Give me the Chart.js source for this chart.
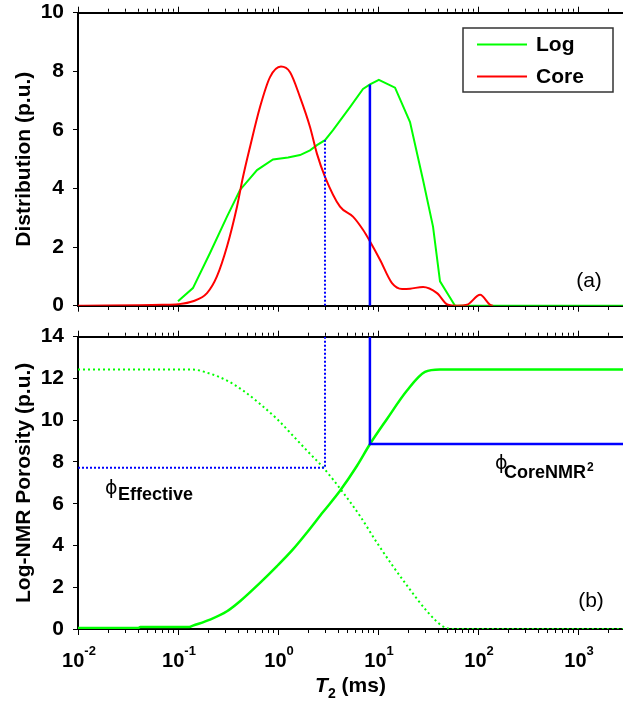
<!DOCTYPE html>
<html><head><meta charset="utf-8">
<script src="https://cdn.jsdelivr.net/npm/chart.js@4.4.1/dist/chart.umd.min.js"></script>
<style>
html,body{margin:0;padding:0;background:#fff;overflow:hidden;width:623px;height:707px;}
#ca{position:absolute;left:0;top:0;}
#cb{position:absolute;left:0;top:320px;}
</style></head><body>
<canvas id="ca" width="623" height="320"></canvas>
<canvas id="cb" width="623" height="387"></canvas>
<script>
// ---------- DATA ----------
const SERIES_NAMES = ['Log', 'Core'];
// (a) T2 distributions
const T2_LOG  = [0.1, 0.141, 0.209, 0.309, 0.417, 0.617, 0.891, 1.26, 1.66, 2.09, 2.45, 2.95, 3.55, 5.25, 7.08, 8.32, 10.2, 14.8, 20.9, 28.2, 35.5, 41.7, 58.9, 2818];
const LOG_DIST = [0.15, 0.6, 1.8, 3.04, 3.95, 4.63, 4.99, 5.06, 5.14, 5.3, 5.48, 5.65, 5.99, 6.78, 7.40, 7.55, 7.71, 7.44, 6.27, 4.29, 2.70, 0.83, 0, 0];
const T2_CORE = [0.01, 0.07, 0.1, 0.141, 0.195, 0.245, 0.309, 0.389, 0.447, 0.525, 0.661, 0.832, 1.07, 1.32, 1.66, 2.09, 2.45, 2.95, 4.17, 5.62, 7.08, 8.32, 10.5, 13.8, 17.4, 20.9, 28.2, 38.9, 50.1, 61.7, 77.6, 105, 132, 141];
const CORE_DIST = [0, 0.03, 0.05, 0.15, 0.43, 1.0, 2.02, 3.38, 4.40, 5.42, 6.78, 7.80, 8.16, 7.97, 7.12, 6.10, 5.19, 4.40, 3.38, 3.04, 2.59, 2.19, 1.56, 0.77, 0.57, 0.58, 0.64, 0.43, 0.03, 0, 0.03, 0.37, 0.03, 0];
// (b) cumulative log-NMR porosity
const T2_CUM = [0.01, 0.04, 0.042, 0.13, 0.141, 0.209, 0.309, 0.417, 0.661, 0.977, 1.41, 1.95, 2.82, 4.17, 6.17, 8.32, 12.3, 19.5, 29.5, 41.7, 2818];
const CUM_POR = [0.05, 0.05, 0.1, 0.1, 0.16, 0.45, 0.85, 1.33, 2.21, 3.01, 3.81, 4.62, 5.6, 6.62, 7.82, 8.86, 10.06, 11.42, 12.31, 12.43, 12.43];
const T2_REM = [0.01, 0.138, 0.209, 0.309, 0.447, 0.661, 0.977, 1.41, 1.95, 2.82, 4.47, 6.61, 9.77, 14.1, 20.9, 30.9, 44.7, 56.2, 2818];
const REM_POR = [12.43, 12.43, 12.23, 11.9, 11.42, 10.78, 10.06, 9.26, 8.54, 7.74, 6.54, 5.41, 4.13, 3.01, 1.89, 0.85, 0.12, 0, 0];
// cut-offs
const T2_EFF = 2.95, PHI_EFF = 7.72, LOG_AT_EFF = 5.65;
const T2_CNMR = 8.3, PHI_CNMR = 8.86, LOG_AT_CNMR = 7.55;
// axes
const X_MIN = 0.01, X_MAX = 2818;
const TICK_EXPONENTS = ['-2', '-1', '0', '1', '2', '3'];
const Y_MAX_A = 10, Y_MAX_B = 14, Y_STEP = 2;
const Y_TITLE_A = 'Distribution (p.u.)';
const Y_TITLE_B = 'Log-NMR Porosity (p.u.)';
const PANEL_LABELS = ['(a)', '(b)'];

// ---------- STYLE ----------
const FONT = '"Liberation Sans", Arial, Helvetica, sans-serif';
const GREEN = '#00ff00', RED = '#ff0000', BLUE = '#0000ff';
const pts = (xs, ys) => xs.map((x, i) => ({x, y: ys[i]}));

function logTicks() {
  const t = [];
  for (let e = -2; e <= 3; e++) for (let m = 1; m <= 9; m++) {
    const v = +(m * Math.pow(10, e)).toPrecision(6);
    if (v >= X_MIN && v <= X_MAX) t.push({value: v, major: m === 1});
  }
  return t;
}
function xAxis(pos, h) {
  return {
    type: 'logarithmic', position: pos, min: X_MIN, max: X_MAX,
    ticks: {display: false},
    border: {display: true, color: '#000', width: 2},
    grid: {display: true, drawOnChartArea: false, drawTicks: true, tickLength: 6, tickColor: '#000', tickWidth: 1,
      tickBorderDash: c => (c.tick && c.tick.major) ? [] : [3, 3],
      tickBorderDashOffset: c => (pos === 'top' && !(c.tick && c.tick.major)) ? 4 : 0},
    afterBuildTicks: s => { s.ticks = logTicks(); },
    afterFit: s => { s.height = h; s.paddingLeft = 0; s.paddingRight = 0; }
  };
}
function yAxis(max, title) {
  return {
    type: 'linear', position: 'left', min: 0, max: max,
    ticks: {stepSize: Y_STEP, color: '#000', font: {family: FONT, size: 21, weight: 'bold'}, padding: 9},
    border: {display: true, color: '#000', width: 2},
    grid: {display: true, drawOnChartArea: false, drawTicks: true, tickLength: 5, tickColor: '#000'},
    title: {display: true, text: title, color: '#000', font: {family: FONT, size: 21, weight: 'bold'}, padding: {top: 12, bottom: 0}},
    afterFit: s => { s.width = 78; s.paddingTop = 0; s.paddingBottom = 0; }
  };
}
const baseOpts = {
  responsive: false, animation: false, devicePixelRatio: 1,
  plugins: {legend: {display: false}, tooltip: {enabled: false}},
  layout: {padding: 0},
  elements: {point: {radius: 0}}
};

// ---------- CHART (a) ----------
const overlayA = {
  id: 'overlayA',
  afterDraw(chart) {
    const ctx = chart.ctx;
    ctx.save();
    // legend
    ctx.lineWidth = 1.5; ctx.strokeStyle = '#333';
    ctx.strokeRect(463, 28, 150, 64);
    const items = [[SERIES_NAMES[0], GREEN, 44.5], [SERIES_NAMES[1], RED, 76.5]];
    items.forEach(([name, col, y]) => {
      ctx.strokeStyle = col; ctx.lineWidth = 2;
      ctx.beginPath(); ctx.moveTo(477, y); ctx.lineTo(527, y); ctx.stroke();
      ctx.fillStyle = '#000'; ctx.font = 'bold 21px ' + FONT; ctx.textBaseline = 'middle'; ctx.textAlign = 'left';
      ctx.fillText(name, 536, y + 1);
    });
    ctx.font = '21px ' + FONT; ctx.textAlign = 'center'; ctx.textBaseline = 'middle';
    ctx.fillText(PANEL_LABELS[0], 589, 281);
    ctx.restore();
  }
};
new Chart(document.getElementById('ca'), {
  type: 'line',
  data: {datasets: [
    {label: 'T2 cut-off (effective)', data: [{x: T2_EFF, y: 0}, {x: T2_EFF, y: LOG_AT_EFF}], borderColor: BLUE, borderWidth: 2, borderDash: [2, 2]},
    {label: 'T2 cut-off (core NMR)', data: [{x: T2_CNMR, y: 0}, {x: T2_CNMR, y: LOG_AT_CNMR}], borderColor: BLUE, borderWidth: 2.5},
    {label: SERIES_NAMES[1], data: pts(T2_CORE, CORE_DIST), borderColor: RED, borderWidth: 2, cubicInterpolationMode: 'monotone'},
    {label: SERIES_NAMES[0], data: pts(T2_LOG, LOG_DIST), borderColor: GREEN, borderWidth: 2, tension: 0}
  ]},
  options: Object.assign({}, baseOpts, {
    scales: {
      x: xAxis('bottom', 14.3),
      x2: xAxis('top', 12.7),
      y: yAxis(Y_MAX_A, Y_TITLE_A)
    }
  }),
  plugins: [overlayA]
});

// ---------- CHART (b) ----------
const overlayB = {
  id: 'overlayB',
  afterDraw(chart) {
    const ctx = chart.ctx, xs = chart.scales.x, ca = chart.chartArea;
    ctx.save();
    ctx.fillStyle = '#000';
    ctx.textBaseline = 'alphabetic'; ctx.textAlign = 'left';
    // x tick labels 10^n
    TICK_EXPONENTS.forEach(e => {
      const px = xs.getPixelForValue(Math.pow(10, +e));
      ctx.font = 'bold 20px ' + FONT; const w1 = ctx.measureText('10').width;
      ctx.font = 'bold 13px ' + FONT; const w2 = ctx.measureText(e).width;
      const x0 = px - (w1 + w2) / 2 + 1;
      ctx.font = 'bold 20px ' + FONT; ctx.fillText('10', x0, 347);
      ctx.font = 'bold 13px ' + FONT; ctx.fillText(e, x0 + w1, 335);
    });
    // x title T2 (ms)
    ctx.font = 'italic bold 21px ' + FONT; const wT = ctx.measureText('T').width;
    ctx.font = 'bold 14px ' + FONT; const w2 = ctx.measureText('2').width;
    ctx.font = 'bold 21px ' + FONT; const wm = ctx.measureText(' (ms)').width;
    let x0 = (ca.left + ca.right) / 2 - (wT + w2 + wm) / 2;
    ctx.font = 'italic bold 21px ' + FONT; ctx.fillText('T', x0, 372);
    ctx.font = 'bold 14px ' + FONT; ctx.fillText('2', x0 + wT, 378);
    ctx.font = 'bold 21px ' + FONT; ctx.fillText(' (ms)', x0 + wT + w2, 372);
    // annotations
    ctx.font = '19px "DejaVu Sans", ' + FONT; ctx.fillText('\u03D5', 105, 174);
    ctx.font = 'bold 18px ' + FONT; ctx.fillText('Effective', 118, 180);
    ctx.font = '19px "DejaVu Sans", ' + FONT; ctx.fillText('\u03D5', 495, 149);
    ctx.font = 'bold 18px ' + FONT; ctx.fillText('CoreNMR', 504, 158);
    const wc = ctx.measureText('CoreNMR').width;
    ctx.font = 'bold 12px ' + FONT; ctx.fillText('2', 504 + wc + 1, 151);
    // panel label
    ctx.font = '21px ' + FONT; ctx.textAlign = 'center'; ctx.textBaseline = 'middle';
    ctx.fillText(PANEL_LABELS[1], 591, 281);
    ctx.restore();
  }
};
new Chart(document.getElementById('cb'), {
  type: 'line',
  data: {datasets: [
    {label: 'effective porosity', data: [{x: X_MIN, y: PHI_EFF}, {x: T2_EFF, y: PHI_EFF}, {x: T2_EFF, y: Y_MAX_B}], borderColor: BLUE, borderWidth: 2, borderDash: [2, 2]},
    {label: 'core NMR porosity', data: [{x: T2_CNMR, y: Y_MAX_B}, {x: T2_CNMR, y: PHI_CNMR}, {x: X_MAX, y: PHI_CNMR}], borderColor: BLUE, borderWidth: 2.5},
    {label: 'cumulative', data: pts(T2_CUM, CUM_POR), borderColor: GREEN, borderWidth: 2.5, cubicInterpolationMode: 'monotone'},
    {label: 'remaining', data: pts(T2_REM, REM_POR), borderColor: GREEN, borderWidth: 2, borderDash: [2, 3], cubicInterpolationMode: 'monotone'}
  ]},
  options: Object.assign({}, baseOpts, {
    scales: {
      x: xAxis('bottom', 78),
      x2: xAxis('top', 16.7),
      y: yAxis(Y_MAX_B, Y_TITLE_B)
    }
  }),
  plugins: [overlayB]
});
</script>
</body></html>
